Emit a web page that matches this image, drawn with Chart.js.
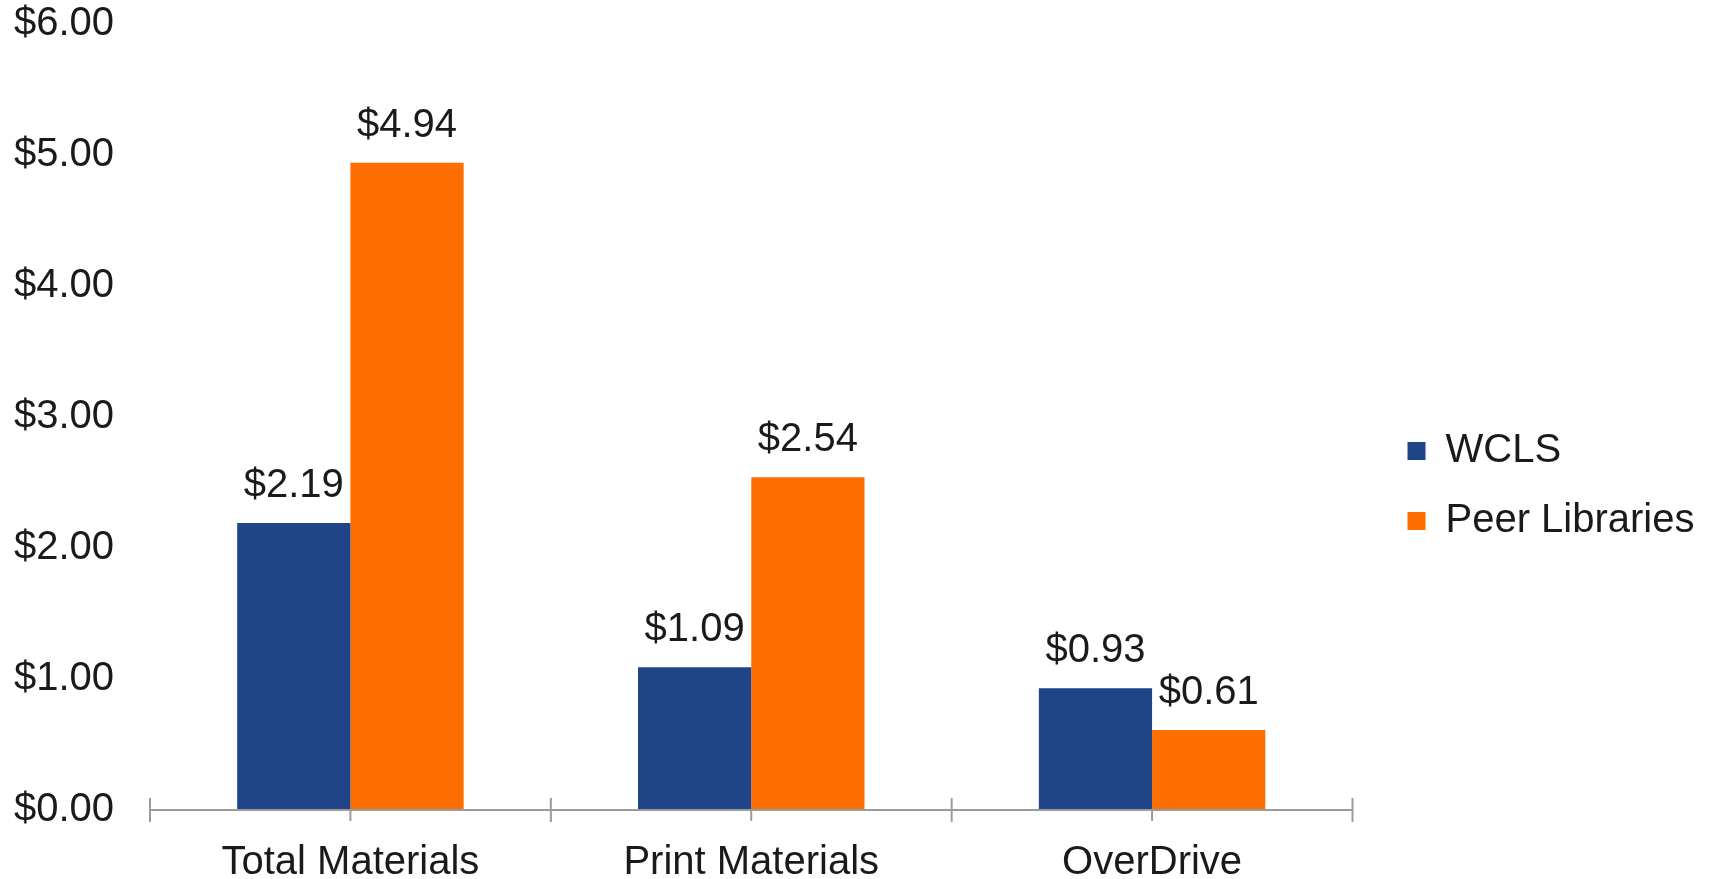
<!DOCTYPE html>
<html>
<head>
<meta charset="utf-8">
<title>Materials spending per capita</title>
<script src="https://cdn.jsdelivr.net/npm/chart.js@4"></script>
<style>
  html, body { margin: 0; padding: 0; background: #fff; }
  #wrap { width: 1709px; height: 879px; }
</style>
</head>
<body>
<div id="wrap"><canvas id="chart"></canvas></div>
<script>
const categories = ["Total Materials", "Print Materials", "OverDrive"];
const wclsValues = [2.19, 1.09, 0.93];
const peerValues = [4.94, 2.54, 0.61];
const seriesNames = ["WCLS", "Peer Libraries"];
const yTicks = [0, 1, 2, 3, 4, 5, 6];

const FONT = "'Liberation Sans', Arial, sans-serif";
const TEXT = "#1a1a1a";
const AXIS = "#9b9b9b";

const money = v => "$" + v.toFixed(2);

// value labels above every bar
const barLabels = {
  id: "barLabels",
  afterDatasetsDraw(chart) {
    const ctx = chart.ctx;
    ctx.save();
    ctx.font = "40px " + FONT;
    ctx.fillStyle = TEXT;
    ctx.textAlign = "center";
    ctx.textBaseline = "alphabetic";
    chart.data.datasets.forEach((ds, i) => {
      chart.getDatasetMeta(i).data.forEach((bar, j) => {
        ctx.fillText(money(ds.data[j]), bar.x, bar.y - 26);
      });
    });
    ctx.restore();
  }
};

// x axis line with tick marks crossing it at category edges
const xAxisLine = {
  id: "xAxisLine",
  afterDatasetsDraw(chart) {
    const x = chart.scales.x;
    const y0 = chart.scales.y.getPixelForValue(0);
    const ctx = chart.ctx;
    ctx.save();
    ctx.strokeStyle = AXIS;
    ctx.lineWidth = 2;
    ctx.beginPath();
    ctx.moveTo(x.left, y0);
    ctx.lineTo(x.right, y0);
    for (let i = 0; i <= categories.length; i++) {
      const px = x.getPixelForValue(i - 0.5);
      ctx.moveTo(px, y0 - 12);
      ctx.lineTo(px, y0 + 12);
    }
    for (let i = 0; i < categories.length; i++) {
      const px = x.getPixelForValue(i);
      ctx.moveTo(px, y0);
      ctx.lineTo(px, y0 + 11);
    }
    ctx.stroke();
    ctx.restore();
  }
};

// legend clips to its box, let the last label run to the canvas edge
const legendRoom = {
  id: "legendRoom",
  afterLayout(chart) {
    const l = chart.legend;
    l.right = chart.width;
    l.width = l.right - l.left;
  }
};

new Chart(document.getElementById("chart"), {
  type: "bar",
  data: {
    labels: categories,
    datasets: [
      { label: seriesNames[0], data: wclsValues, backgroundColor: "#1f4487" },
      { label: seriesNames[1], data: peerValues, backgroundColor: "#ff6e00" }
    ]
  },
  options: {
    responsive: true,
    maintainAspectRatio: false,
    animation: false,
    layout: { padding: { left: 10, right: 58, top: 24, bottom: 0 } },
    datasets: { bar: { categoryPercentage: 0.565, barPercentage: 1.0 } },
    plugins: {
      tooltip: { enabled: false },
      legend: {
        position: "right",
        title: { display: true, text: "", padding: { top: 64, bottom: 0 }, font: { size: 4 } },
        labels: {
          boxWidth: 18,
          boxHeight: 18,
          padding: 30,
          color: TEXT,
          font: { family: FONT, size: 40 }
        }
      }
    },
    scales: {
      x: {
        grid: { display: false, drawTicks: false },
        border: { display: false },
        ticks: { color: TEXT, font: { family: FONT, size: 40 }, padding: 29 },
        afterFit: s => { s.height = 69; s.paddingLeft = 0; s.paddingRight = 0; }
      },
      y: {
        min: 0,
        max: 6,
        afterBuildTicks: s => { s.ticks = yTicks.map(v => ({ value: v })); },
        grid: { display: false, drawTicks: false },
        border: { display: false },
        ticks: { color: TEXT, font: { family: FONT, size: 40 }, padding: 36, callback: v => money(v) },
        afterFit: s => { s.width = 140; s.paddingTop = 0; s.paddingBottom = 0; }
      },
      gap: {
        position: "right",
        display: true,
        grid: { display: false, drawTicks: false },
        border: { display: false },
        ticks: { display: false },
        afterFit: s => { s.width = 25; s.paddingTop = 0; s.paddingBottom = 0; }
      }
    }
  },
  plugins: [barLabels, xAxisLine, legendRoom]
});
</script>
</body>
</html>
